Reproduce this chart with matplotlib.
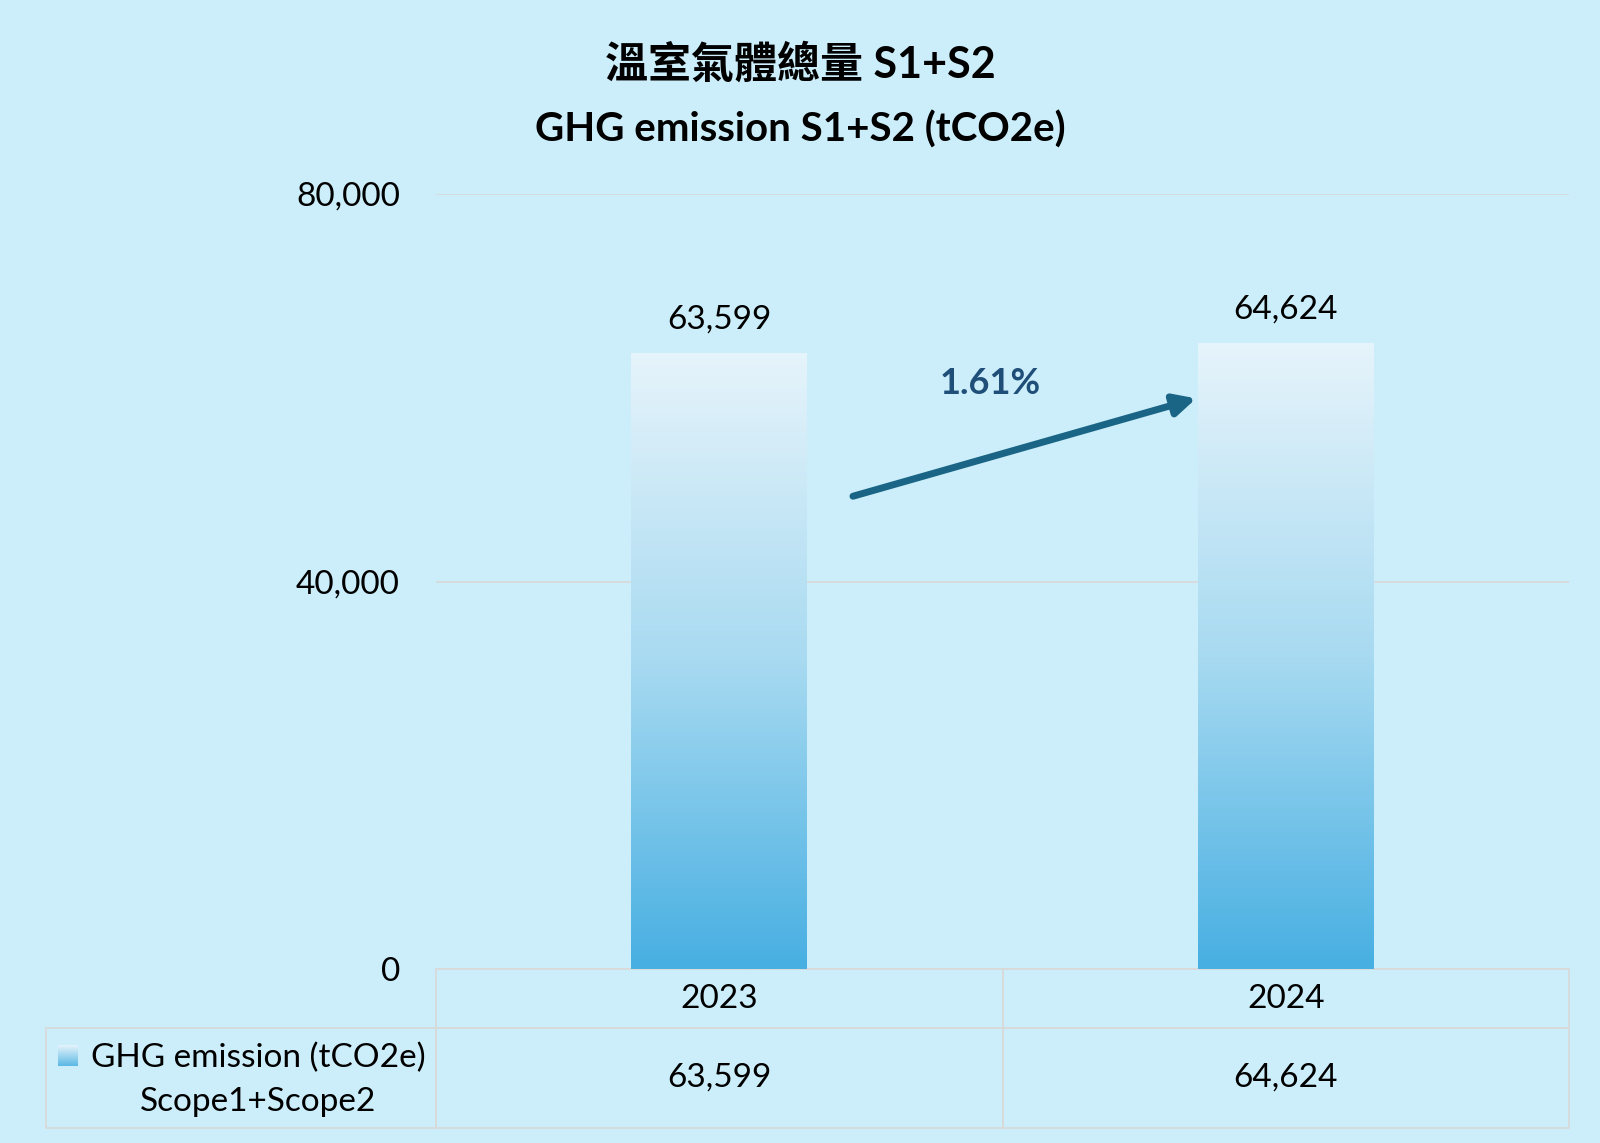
import numpy as np
import matplotlib.pyplot as plt
from matplotlib.colors import LinearSegmentedColormap
from matplotlib.table import Table

# data
years = ["2023", "2024"]
emissions = [63599, 64624]
change_label = "1.61%"
series_label = "GHG emission (tCO2e)\nScope1+Scope2"
title_zh = "溫室氣體總量 S1+S2"
title_en = "GHG emission S1+S2 (tCO2e)"
yticks = [0, 40000, 80000]

plt.rcParams['font.family'] = ['Lato', 'Noto Sans CJK TC', 'DejaVu Sans']

bg = '#CCEEFA'
grid_c = '#D9D9D9'
grad = LinearSegmentedColormap.from_list('g', ['#47AFE2', '#A8DAF1', '#E6F4FB'])
fs = 24

fig = plt.figure(figsize=(16, 11.43), dpi=100, facecolor=bg)
ax = fig.add_axes([436/1600, 1-969/1143, 1133/1600, 775/1143], facecolor=bg)

x = np.arange(len(years))
bar_w = 0.31
bars = ax.bar(x, emissions, width=bar_w, color='none', edgecolor='none', zorder=2)
g = np.linspace(0, 1, 256).reshape(-1, 1)
for b in bars:
    x0, y0, w, h = b.get_x(), b.get_y(), b.get_width(), b.get_height()
    im = ax.imshow(g, cmap=grad, origin='lower', aspect='auto',
                   extent=[x0, x0 + w, y0, y0 + h], zorder=2)
    im.set_clip_path(b)

for xi, v in zip(x, emissions):
    ax.annotate(f"{v:,}", (xi, v), xytext=(0, 13), textcoords='offset points',
                ha='center', va='bottom', fontsize=fs, color='black')

ax.set_xlim(-0.5, 1.5)
ax.set_ylim(0, 80000)
ax.set_yticks(yticks)
ax.set_yticklabels([f"{t:,}" for t in yticks], fontsize=fs)
ax.tick_params(axis='y', length=0, pad=26)
ax.set_xticks([])
ax.grid(axis='y', color=grid_c, lw=1.2, zorder=0)
ax.set_axisbelow(True)
for s in ax.spines.values():
    s.set_visible(False)

# trend arrow
ax.annotate('', xy=(0.842, 58900), xytext=(0.236, 48800),
            arrowprops=dict(arrowstyle='-|>', lw=5, color='#1A6585',
                            mutation_scale=32, shrinkA=0, shrinkB=0))
ax.text(0.478, 60400, change_label, ha='center', va='center', fontsize=26,
        fontweight='bold', color='#1F4E79')

# data table under the plot (grid cells fill the axes width, label column sits left)
h_head, h_row = 59/775, 100/775
tbl = Table(ax, bbox=[0, -(h_head + h_row), 1, h_head + h_row])
for j, yr in enumerate(years):
    tbl.add_cell(0, j, width=0.5, height=h_head, text=yr, loc='center')
    tbl.add_cell(1, j, width=0.5, height=h_row, text=f"{emissions[j]:,}", loc='center')
tbl.add_cell(1, -1, width=390/1133, height=h_row, text='', loc='center')
tbl.auto_set_font_size(False)
tbl.set_fontsize(fs)
for cell in tbl.get_celld().values():
    cell.set_edgecolor(grid_c)
    cell.set_facecolor('none')
    cell.set_linewidth(1.2)
    cell.get_text().set_va('center')
ax.add_table(tbl)

ax.text(-178/1133, -111/775, series_label, ha='center', va='center',
        fontsize=fs, linespacing=1.6, transform=ax.transAxes)

sw = fig.add_axes([58/1600, 1-1066/1143, 20/1600, 21/1143])
sw.imshow(g, cmap=LinearSegmentedColormap.from_list('s', ['#5AB8E5', '#E6F4FB']),
          origin='lower', aspect='auto')
sw.axis('off')

fig.text(0.5, 1-64/1143, title_zh, ha='center', va='center', fontsize=31, fontweight='bold')
fig.text(0.5, 1-130/1143, title_en, ha='center', va='center', fontsize=29, fontweight='bold')

fig.savefig('out.png', dpi=100, facecolor=bg)
